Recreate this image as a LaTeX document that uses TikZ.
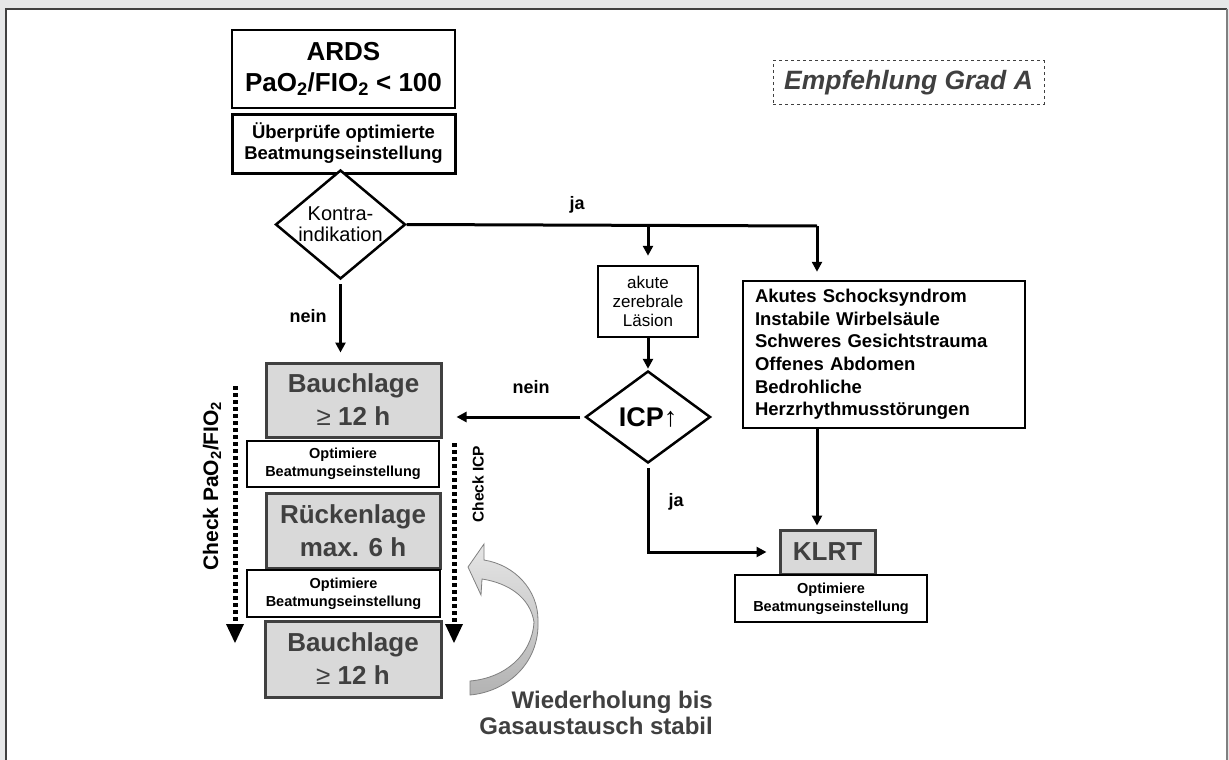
\documentclass[tikz,border=0pt]{standalone}
\usepackage{fontspec}
\setmainfont{Liberation Sans}
\usetikzlibrary{shapes.geometric,arrows.meta}
\definecolor{bg}{HTML}{E6E7E8}
\definecolor{boxgray}{HTML}{D9D9D9}
\definecolor{dgray}{HTML}{404040}
\newcommand{\fsz}[2]{\fontsize{#1}{#2}\selectfont}
\newcommand{\lowsub}[1]{\raisebox{-0.3ex}{\fontsize{0.62em}{1em}\selectfont #1}}
\tikzset{
  box/.style={draw=black, line width=2.5pt, fill=white, inner sep=0pt, align=center},
  graybox/.style={draw=dgray, line width=3pt, fill=boxgray, text=dgray, inner sep=0pt, align=center, font=\fsz{26}{33}\bfseries},
  optbox/.style={box, font=\fsz{14.5}{18}\bfseries},
  conn/.style={line width=3pt, -{Triangle[length=10pt,width=10pt]}},
  plain/.style={line width=3pt},
  lbl/.style={font=\fsz{18}{22}\bfseries, inner sep=0pt},
  dotline/.style={line width=5pt, dash pattern=on 4pt off 3pt},
  decision/.style={diamond, draw=black, line width=2.5pt, fill=white, inner sep=0pt, align=center, aspect=1.3},
}
\begin{document}
\begin{tikzpicture}[x=1pt,y=-1pt]
\useasboundingbox (0,0) rectangle (1229,760);
% frame
\fill[bg] (0,0) rectangle (1229,760);
\fill[white] (6,9) rectangle (1227,760);
\draw[dgray, line width=2pt] (6,761) -- (6,9) -- (1227,9);
\draw[gray, line width=2pt] (1227,9) -- (1227,761);

% top boxes
\node[box, minimum width=223pt, minimum height=78pt, font=\fsz{26}{31}\bfseries] (ards) at (343.5,69)
  {ARDS\\PaO\textsubscript{2}/FIO\textsubscript{2} < 100};
\node[box, line width=3pt, minimum width=223pt, minimum height=59pt, font=\fsz{18.5}{21}\bfseries] (check) at (343.5,143.5)
  {Überprüfe optimierte\\Beatmungseinstellung};
\node[decision, minimum width=125pt, minimum height=109pt, font=\fsz{20}{21}] (kontra) at (340.5,224.5)
  {Kontra-\\indikation};

\node[draw=dgray, dashed, line width=1pt, inner sep=0pt, minimum width=271pt, minimum height=43pt, font=\fsz{26.5}{28}\bfseries\itshape, text=dgray] (empf) at (908.5,82.5) {Empfehlung Grad A};

% middle column
\coordinate (j1) at (648,226);
\coordinate (j2) at (817,226);
\node[box, minimum width=100pt, minimum height=71pt, font=\fsz{17}{19}] (akute) at (648,301.5)
  {akute\\zerebrale\\Läsion};
\node[decision, minimum width=125pt, minimum height=92pt, font=\fsz{27}{30}\bfseries] (icp) at (648,417)
  {ICP{\mdseries↑}};

% right column
\node[box, text width=258pt, inner xsep=12pt, minimum height=147pt, align=left, font=\fsz{18.5}{22.6}\bfseries] (list) at (884,354.5)
  {Akutes Schocksyndrom\\Instabile Wirbelsäule\\Schweres Gesichtstrauma\\Offenes Abdomen\\Bedrohliche\\Herzrhythmusstörungen};
\node[graybox, minimum width=95pt, minimum height=44pt] (klrt) at (827.5,552) {KLRT};
\node[optbox, minimum width=192pt, minimum height=47pt] (klrtopt) at (831,598.5) {Optimiere\\Beatmungseinstellung};

% left column
\node[graybox, minimum width=175pt, minimum height=74pt] (bauch1) at (353.5,400) {Bauchlage\\{\mdseries≥} 12 h};
\node[optbox, minimum width=192pt, minimum height=46pt] (opt1) at (343,464) {Optimiere\\Beatmungseinstellung};
\node[graybox, minimum width=174pt, minimum height=75pt] (ruecken) at (353,530.5) {Rückenlage\\max. 6 h};
\node[optbox, minimum width=193pt, minimum height=47pt] (opt2) at (343.5,593.5) {Optimiere\\Beatmungseinstellung};
\node[graybox, minimum width=176pt, minimum height=76pt] (bauch2) at (353,659) {Bauchlage\\{\mdseries≥} 12 h};

% connectors
\draw[conn, shorten <=4pt, shorten >=9pt] (kontra.south) -- (kontra.south |- bauch1.north);
\draw[plain] (kontra.east) -- (j2);
\draw[conn, shorten >=8pt] (j2) -- (j2 |- list.north);
\draw[conn, shorten >=9pt] (j1) -- (j1 |- akute.north);
\draw[conn, shorten >=1pt] (akute.south) -- (icp.north);
\draw[conn, shorten <=4pt, shorten >=14pt] (icp.west) -- (icp.west -| bauch1.east);
\draw[conn, shorten <=4pt, shorten >=12pt] (icp.south) -- (icp.south |- klrt.west) -- (klrt.west);
\draw[conn, shorten >=3pt] (list.south -| j2) -- (klrt.north -| j2);

% labels
\node[lbl] (ja1) at (577,205) {ja};
\node[lbl] (nein1) at (308,316) {nein};
\node[lbl] (nein2) at (531,387) {nein};
\node[lbl] (ja2) at (676,502) {ja};

% dotted check arrows
\coordinate (dl1) at (235,386);
\coordinate (dl2) at (235,624);
\coordinate (dl3) at (235,643);
\coordinate (dr1) at (454,443);
\coordinate (dr2) at (454,624);
\coordinate (dr3) at (454,643);
\draw[dotline] (dl1) -- (dl2);
\fill ([xshift=-9pt]dl2) -- ([xshift=9pt]dl2) -- (dl3) -- cycle;
\draw[dotline] (dr1) -- (dr2);
\fill ([xshift=-9pt]dr2) -- ([xshift=9pt]dr2) -- (dr3) -- cycle;
\node[rotate=90, inner sep=0pt, font=\fsz{21}{24}\bfseries] (chk1) at (212,486) {Check PaO\textsubscript{2}/FIO\textsubscript{2}};
\node[rotate=90, inner sep=0pt, font=\fsz{15.5}{18}\bfseries] (chk2) at (478,484) {Check ICP};

% curved repeat arrow
\shadedraw[draw=gray, line width=0.8pt, top color=gray!20, bottom color=gray!60]
  (484,560) .. controls (515,565) and (538,590) .. (538,620)
  .. controls (540,665) and (505,692) .. (470,695)
  -- (470,681)
  .. controls (505,678) and (532,655) .. (534,622)
  .. controls (530,597) and (508,583) .. (482,579)
  -- (481,595) -- (468,567) -- (484,544) -- cycle;
\node[inner sep=0pt, anchor=north east, align=right, text=dgray, font=\fsz{24}{26}\bfseries] (wied) at (713,691)
  {Wiederholung bis\\Gasaustausch stabil};
\end{tikzpicture}
\end{document}
